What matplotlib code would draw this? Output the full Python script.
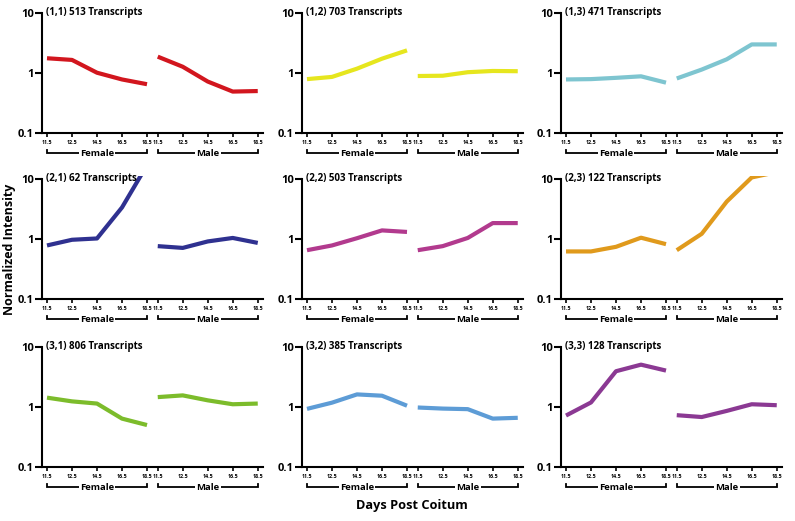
import matplotlib
matplotlib.use("Agg")
import matplotlib.pyplot as plt
import matplotlib.transforms as mtransforms
import numpy as np

plt.rcParams['font.family'] = ['Open Sans', 'DejaVu Sans']

days = ["11.5", "12.5", "14.5", "16.5", "18.5"]
titles = ["(1,1) 513 Transcripts", "(1,2) 703 Transcripts", "(1,3) 471 Transcripts",
          "(2,1) 62 Transcripts", "(2,2) 503 Transcripts", "(2,3) 122 Transcripts",
          "(3,1) 806 Transcripts", "(3,2) 385 Transcripts", "(3,3) 128 Transcripts"]
colors = ["#d2161e", "#e6e61e", "#7ec5d0",
          "#2f3190", "#b23a8e", "#e09a1c",
          "#7cbc2b", "#5d9cd6", "#8b3993"]
female = [
    [1.76, 1.65, 1.01, 0.78, 0.65],
    [0.79, 0.86, 1.18, 1.73, 2.38],
    [0.78, 0.79, 0.83, 0.88, 0.69],
    [0.78, 0.97, 1.02, 3.35, 17.0],
    [0.65, 0.78, 1.03, 1.39, 1.31],
    [0.62, 0.62, 0.74, 1.05, 0.82],
    [1.43, 1.24, 1.14, 0.64, 0.50],
    [0.93, 1.18, 1.62, 1.54, 1.05],
    [0.72, 1.19, 3.94, 5.07, 4.04],
]
male = [
    [1.87, 1.27, 0.72, 0.49, 0.50],
    [0.89, 0.90, 1.03, 1.08, 1.07],
    [0.81, 1.14, 1.69, 2.99, 2.99],
    [0.76, 0.71, 0.91, 1.04, 0.86],
    [0.65, 0.76, 1.04, 1.84, 1.84],
    [0.65, 1.22, 4.2, 10.6, 13.0],
    [1.46, 1.56, 1.29, 1.11, 1.14],
    [0.98, 0.94, 0.92, 0.64, 0.66],
    [0.73, 0.68, 0.86, 1.11, 1.07],
]
groups = ["Female", "Male"]

W, H = 795, 521
fig = plt.figure(figsize=(W / 100, H / 100), dpi=100)

col_left = [42, 302, 561]
row_bottom = [133, 299, 467]
ax_w = 221
ax_h = 123

xf = np.arange(5)
xm = np.arange(5) + 4.43

for i in range(9):
    r, c = divmod(i, 3)
    ax = fig.add_axes([col_left[c] / W, (H - row_bottom[r]) / H, ax_w / W, ax_h / H])
    ax.set_yscale('log')
    ax.set_ylim(0.1, 11.2)
    ax.set_xlim(-0.2, 8.64)
    ax.plot(xf, female[i], color=colors[i], lw=3.0, solid_capstyle='butt', clip_on=True)
    ax.plot(xm, male[i], color=colors[i], lw=3.0, solid_capstyle='butt', clip_on=True)
    for s in ['top', 'right']:
        ax.spines[s].set_visible(False)
    for s in ['left', 'bottom']:
        ax.spines[s].set_linewidth(1.5)
    ax.spines['left'].set_bounds(0.1, 10)
    ax.set_yticks([0.1, 1, 10])
    ax.set_yticklabels(["0.1", "1", "10"])
    ax.yaxis.set_minor_locator(matplotlib.ticker.NullLocator())
    ax.tick_params(axis='y', length=5, width=1.5, labelsize=8, pad=1)
    for lab in ax.get_yticklabels():
        lab.set_fontweight('bold')
    ax.set_xticks(list(xf) + list(xm))
    ax.set_xticklabels(days + days)
    ax.tick_params(axis='x', length=3, width=1.2, labelsize=3.9, pad=1.8)
    for lab in ax.get_xticklabels():
        lab.set_fontweight('bold')
    ax.text(0.018, 10, titles[i], transform=mtransforms.blended_transform_factory(ax.transAxes, ax.transData),
            fontsize=7, fontweight='bold', va='center', ha='left')
    trans = mtransforms.blended_transform_factory(ax.transData, ax.transAxes)
    yb = -20 / ax_h
    yt = -16.5 / ax_h
    for g, xs in zip(groups, [xf, xm]):
        x0, x1 = xs[0], xs[-1]
        ax.plot([x0, x0, x1, x1], [yt, yb, yb, yt], color='black', lw=1.3,
                transform=trans, clip_on=False, solid_joinstyle='miter')
        ax.text((x0 + x1) / 2, yb, g, transform=trans, ha='center', va='center',
                fontsize=6.8, fontweight='bold',
                bbox=dict(facecolor='white', edgecolor='none', pad=1.0))

fig.text(10 / W, 1 - 249 / H, "Normalized Intensity", rotation=90, ha='center', va='center',
         fontsize=9.0, fontweight='bold')
fig.text(412 / W, 1 - 505 / H, "Days Post Coitum", ha='center', va='center',
         fontsize=9.2, fontweight='bold')

fig.savefig("out.png", dpi=100)
